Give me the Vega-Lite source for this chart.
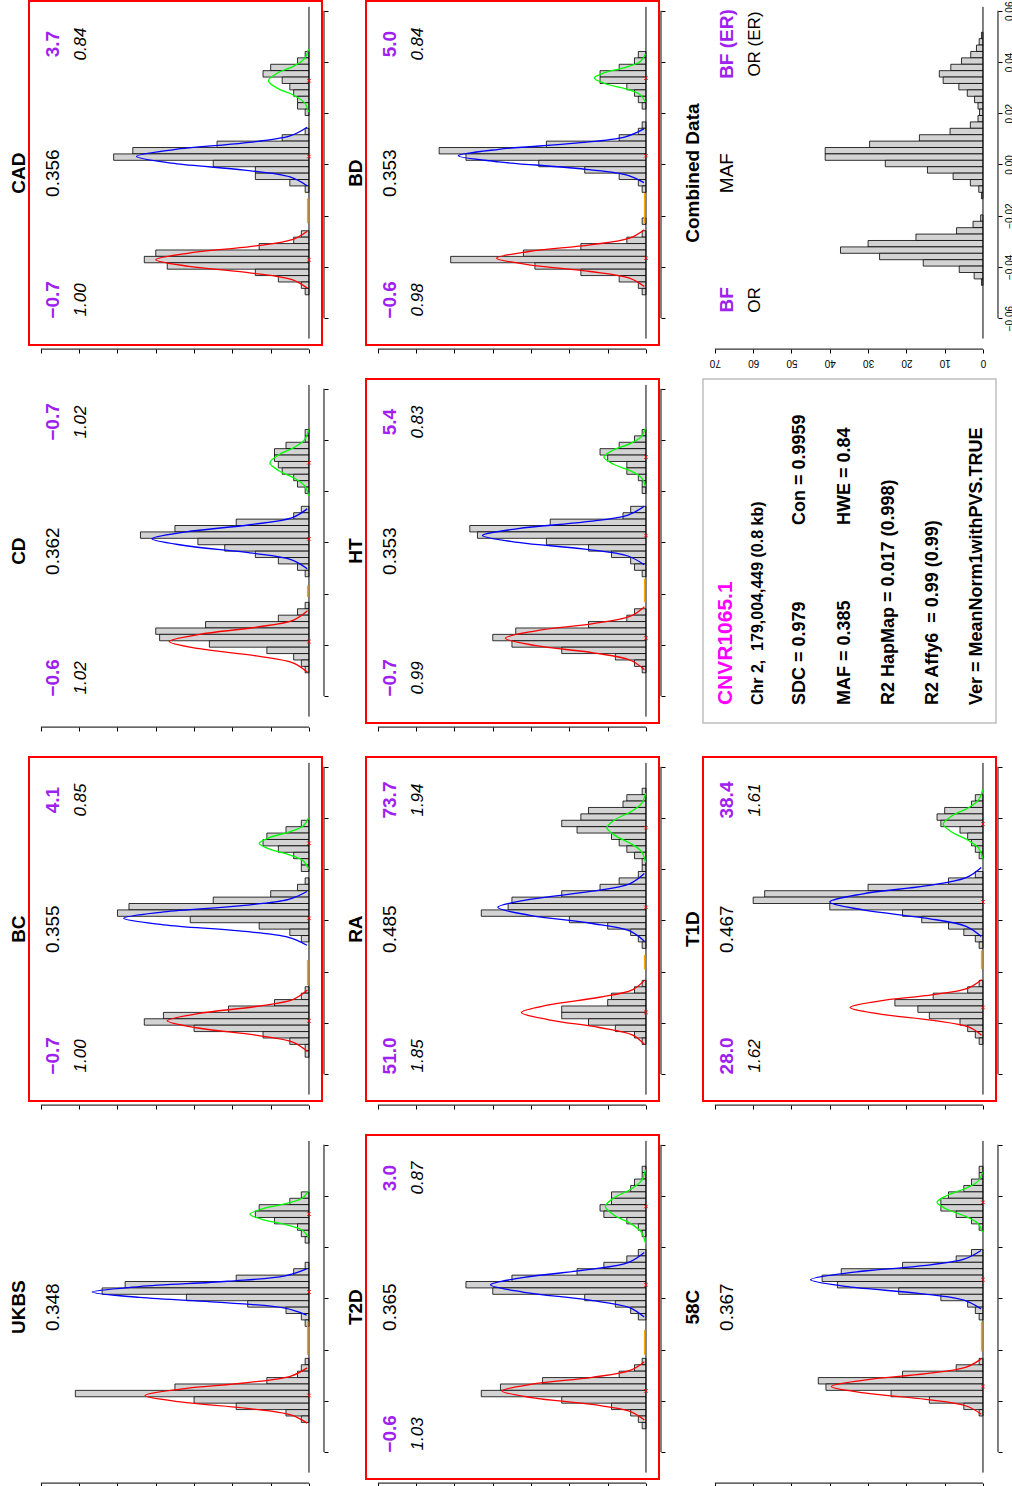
{
"$schema":"https://vega.github.io/schema/vega-lite/v6.json",
"background":"white",
"padding":{"left":8,"top":0,"right":0,"bottom":0},
"config":{"font":"Liberation Sans","view":{"stroke":null},
"axis":{"domain":false,"grid":false,"labels":false,"tickColor":"#000","tickSize":4,"tickWidth":1},
"rect":{"fill":"#d3d3d3","stroke":"#000","strokeWidth":0.8},
"line":{"interpolate":"catmull-rom","strokeWidth":1.3},
"rule":{"color":"#000","strokeWidth":1},
"text":{"color":"#000","angle":270,"align":"center","baseline":"middle"},
"point":{"shape":"M-1,-1L1,1M-1,1L1,-1","size":12,"filled":false,"color":"#ff0000","strokeWidth":1,"opacity":1}},
"datasets":{
"CAD":[
{"t":"i","ti":"CAD","m":"0.356","b1":"−0.7","o1":"1.00","b2":"3.7","o2":"0.84"},
{"t":"o","a":-0.023,"b":-0.0132},
{"t":"m","v":0.0327},{"t":"m","v":0.0031},{"t":"m","v":-0.0372},
{"t":"h","a":0.0416,"b":0.0441,"n":1},{"t":"h","a":0.0391,"b":0.0416,"n":3},{"t":"h","a":0.0366,"b":0.0391,"n":10},{"t":"h","a":0.0341,"b":0.0366,"n":12},{"t":"h","a":0.0316,"b":0.0341,"n":7},{"t":"h","a":0.0291,"b":0.0316,"n":5},{"t":"h","a":0.0266,"b":0.0291,"n":4},{"t":"h","a":0.0241,"b":0.0266,"n":3},{"t":"h","a":0.0216,"b":0.0241,"n":3},{"t":"h","a":0.0191,"b":0.0216,"n":1},
{"t":"h","a":0.0116,"b":0.0141,"n":1},{"t":"h","a":0.0091,"b":0.0116,"n":7},{"t":"h","a":0.0066,"b":0.0091,"n":24},{"t":"h","a":0.0041,"b":0.0066,"n":46},{"t":"h","a":0.0016,"b":0.0041,"n":51},{"t":"h","a":-0.0009,"b":0.0016,"n":25},{"t":"h","a":-0.0034,"b":-0.0009,"n":14},{"t":"h","a":-0.0059,"b":-0.0034,"n":14},{"t":"h","a":-0.0084,"b":-0.0059,"n":5},{"t":"h","a":-0.0109,"b":-0.0084,"n":1},
{"t":"h","a":-0.0284,"b":-0.0259,"n":2},{"t":"h","a":-0.0309,"b":-0.0284,"n":4},{"t":"h","a":-0.0334,"b":-0.0309,"n":13},{"t":"h","a":-0.0359,"b":-0.0334,"n":40},{"t":"h","a":-0.0384,"b":-0.0359,"n":43},{"t":"h","a":-0.0409,"b":-0.0384,"n":37},{"t":"h","a":-0.0434,"b":-0.0409,"n":14},{"t":"h","a":-0.0459,"b":-0.0434,"n":8},{"t":"h","a":-0.0484,"b":-0.0459,"n":2},{"t":"h","a":-0.0509,"b":-0.0484,"n":1},
{"t":"c","c":"g","v":0.0204,"n":0.12},{"t":"c","c":"g","v":0.0241,"n":1.17},{"t":"c","c":"g","v":0.027,"n":3.98},{"t":"c","c":"g","v":0.0298,"n":8.3},{"t":"c","c":"g","v":0.0327,"n":10.6},{"t":"c","c":"g","v":0.0356,"n":8.3},{"t":"c","c":"g","v":0.0384,"n":3.98},{"t":"c","c":"g","v":0.0413,"n":1.17},{"t":"c","c":"g","v":0.045,"n":0.12},
{"t":"c","c":"b","v":-0.0083,"n":0.5},{"t":"c","c":"b","v":-0.0049,"n":4.95},{"t":"c","c":"b","v":-0.0022,"n":16.9},{"t":"c","c":"b","v":0.0004,"n":35.2},{"t":"c","c":"b","v":0.0031,"n":45},{"t":"c","c":"b","v":0.0058,"n":35.2},{"t":"c","c":"b","v":0.0084,"n":16.9},{"t":"c","c":"b","v":0.0111,"n":4.95},{"t":"c","c":"b","v":0.0145,"n":0.5},
{"t":"c","c":"r","v":-0.0483,"n":0.44},{"t":"c","c":"r","v":-0.045,"n":4.4},{"t":"c","c":"r","v":-0.0424,"n":15},{"t":"c","c":"r","v":-0.0398,"n":31.3},{"t":"c","c":"r","v":-0.0372,"n":40},{"t":"c","c":"r","v":-0.0346,"n":31.3},{"t":"c","c":"r","v":-0.032,"n":15},{"t":"c","c":"r","v":-0.0294,"n":4.4},{"t":"c","c":"r","v":-0.0261,"n":0.44}
],
"BD":[
{"t":"i","ti":"BD","m":"0.353","b1":"−0.6","o1":"0.98","b2":"5.0","o2":"0.84"},
{"t":"o","a":-0.0229,"b":-0.0112},
{"t":"m","v":0.0337},{"t":"m","v":0.0034},{"t":"m","v":-0.0366},
{"t":"h","a":0.0416,"b":0.0441,"n":2},{"t":"h","a":0.0391,"b":0.0416,"n":3},{"t":"h","a":0.0366,"b":0.0391,"n":7},{"t":"h","a":0.0341,"b":0.0366,"n":12},{"t":"h","a":0.0316,"b":0.0341,"n":12},{"t":"h","a":0.0291,"b":0.0316,"n":5},{"t":"h","a":0.0266,"b":0.0291,"n":3},{"t":"h","a":0.0241,"b":0.0266,"n":2},{"t":"h","a":0.0216,"b":0.0241,"n":1},
{"t":"h","a":0.0141,"b":0.0166,"n":1},{"t":"h","a":0.0116,"b":0.0141,"n":2},{"t":"h","a":0.0091,"b":0.0116,"n":7},{"t":"h","a":0.0066,"b":0.0091,"n":26},{"t":"h","a":0.0041,"b":0.0066,"n":54},{"t":"h","a":0.0016,"b":0.0041,"n":47},{"t":"h","a":-0.0009,"b":0.0016,"n":28},{"t":"h","a":-0.0034,"b":-0.0009,"n":16},{"t":"h","a":-0.0059,"b":-0.0034,"n":7},{"t":"h","a":-0.0084,"b":-0.0059,"n":2},{"t":"h","a":-0.0109,"b":-0.0084,"n":1},
{"t":"h","a":-0.0234,"b":-0.0209,"n":1},{"t":"h","a":-0.0284,"b":-0.0259,"n":1},{"t":"h","a":-0.0309,"b":-0.0284,"n":5},{"t":"h","a":-0.0334,"b":-0.0309,"n":17},{"t":"h","a":-0.0359,"b":-0.0334,"n":32},{"t":"h","a":-0.0384,"b":-0.0359,"n":51},{"t":"h","a":-0.0409,"b":-0.0384,"n":29},{"t":"h","a":-0.0434,"b":-0.0409,"n":17},{"t":"h","a":-0.0459,"b":-0.0434,"n":7},{"t":"h","a":-0.0484,"b":-0.0459,"n":2},{"t":"h","a":-0.0509,"b":-0.0484,"n":1},
{"t":"c","c":"g","v":0.0244,"n":0.15},{"t":"c","c":"g","v":0.0272,"n":1.49},{"t":"c","c":"g","v":0.0294,"n":5.06},{"t":"c","c":"g","v":0.0315,"n":10.6},{"t":"c","c":"g","v":0.0337,"n":13.5},{"t":"c","c":"g","v":0.0359,"n":10.6},{"t":"c","c":"g","v":0.038,"n":5.06},{"t":"c","c":"g","v":0.0402,"n":1.49},{"t":"c","c":"g","v":0.043,"n":0.15},
{"t":"c","c":"b","v":-0.0071,"n":0.54},{"t":"c","c":"b","v":-0.004,"n":5.39},{"t":"c","c":"b","v":-0.0015,"n":18.4},{"t":"c","c":"b","v":0.001,"n":38.4},{"t":"c","c":"b","v":0.0034,"n":49},{"t":"c","c":"b","v":0.0059,"n":38.4},{"t":"c","c":"b","v":0.0083,"n":18.4},{"t":"c","c":"b","v":0.0108,"n":5.39},{"t":"c","c":"b","v":0.0139,"n":0.54},
{"t":"c","c":"r","v":-0.0477,"n":0.43},{"t":"c","c":"r","v":-0.0444,"n":4.29},{"t":"c","c":"r","v":-0.0418,"n":14.6},{"t":"c","c":"r","v":-0.0392,"n":30.5},{"t":"c","c":"r","v":-0.0366,"n":39},{"t":"c","c":"r","v":-0.034,"n":30.5},{"t":"c","c":"r","v":-0.0314,"n":14.6},{"t":"c","c":"r","v":-0.0288,"n":4.29},{"t":"c","c":"r","v":-0.0255,"n":0.43}
],
"ALL":[
{"t":"i","ti":"Combined Data","m":"MAF","b1":"BF","o1":"OR","b2":"BF (ER)","o2":"OR (ER)"},
{"t":"h","a":0.0491,"b":0.0516,"n":0.4},{"t":"h","a":0.0466,"b":0.0491,"n":1},{"t":"h","a":0.0441,"b":0.0466,"n":1.7},{"t":"h","a":0.0416,"b":0.0441,"n":3.2},{"t":"h","a":0.0391,"b":0.0416,"n":5.6},{"t":"h","a":0.0366,"b":0.0391,"n":8.4},{"t":"h","a":0.0341,"b":0.0366,"n":11.4},{"t":"h","a":0.0316,"b":0.0341,"n":10.4},{"t":"h","a":0.0291,"b":0.0316,"n":6.3},{"t":"h","a":0.0266,"b":0.0291,"n":4.1},{"t":"h","a":0.0241,"b":0.0266,"n":2.2},{"t":"h","a":0.0216,"b":0.0241,"n":1.3},{"t":"h","a":0.0191,"b":0.0216,"n":0.9},{"t":"h","a":0.0166,"b":0.0191,"n":1.3},{"t":"h","a":0.0141,"b":0.0166,"n":3.3},
{"t":"h","a":0.0116,"b":0.0141,"n":8.6},{"t":"h","a":0.0091,"b":0.0116,"n":16.6},{"t":"h","a":0.0066,"b":0.0091,"n":29.6},{"t":"h","a":0.0041,"b":0.0066,"n":41.2},{"t":"h","a":0.0016,"b":0.0041,"n":41.2},{"t":"h","a":-0.0009,"b":0.0016,"n":25.5},{"t":"h","a":-0.0034,"b":-0.0009,"n":14.5},{"t":"h","a":-0.0059,"b":-0.0034,"n":7.8},{"t":"h","a":-0.0084,"b":-0.0059,"n":3.3},{"t":"h","a":-0.0109,"b":-0.0084,"n":1.1},{"t":"h","a":-0.0134,"b":-0.0109,"n":0.4},
{"t":"h","a":-0.0222,"b":-0.0197,"n":0.6},{"t":"h","a":-0.0247,"b":-0.0222,"n":2.6},{"t":"h","a":-0.0272,"b":-0.0247,"n":6.9},{"t":"h","a":-0.0297,"b":-0.0272,"n":17.5},{"t":"h","a":-0.0322,"b":-0.0297,"n":30},{"t":"h","a":-0.0347,"b":-0.0322,"n":37.2},{"t":"h","a":-0.0372,"b":-0.0347,"n":27},{"t":"h","a":-0.0397,"b":-0.0372,"n":15.6},{"t":"h","a":-0.0422,"b":-0.0397,"n":6.2},{"t":"h","a":-0.0447,"b":-0.0422,"n":2.3},{"t":"h","a":-0.0472,"b":-0.0447,"n":0.4}
],
"CD":[
{"t":"i","ti":"CD","m":"0.362","b1":"−0.6","o1":"1.02","b2":"−0.7","o2":"1.02"},
{"t":"o","a":-0.0213,"b":-0.0168},
{"t":"m","v":0.0311},{"t":"m","v":0.0014},{"t":"m","v":-0.0387},
{"t":"h","a":0.0416,"b":0.0441,"n":1},{"t":"h","a":0.0391,"b":0.0416,"n":1},{"t":"h","a":0.0366,"b":0.0391,"n":6},{"t":"h","a":0.0341,"b":0.0366,"n":9},{"t":"h","a":0.0316,"b":0.0341,"n":9},{"t":"h","a":0.0291,"b":0.0316,"n":8},{"t":"h","a":0.0266,"b":0.0291,"n":7},{"t":"h","a":0.0241,"b":0.0266,"n":4},{"t":"h","a":0.0216,"b":0.0241,"n":3},{"t":"h","a":0.0191,"b":0.0216,"n":1},
{"t":"h","a":0.0116,"b":0.0141,"n":2},{"t":"h","a":0.0091,"b":0.0116,"n":4},{"t":"h","a":0.0066,"b":0.0091,"n":19},{"t":"h","a":0.0041,"b":0.0066,"n":35},{"t":"h","a":0.0016,"b":0.0041,"n":44},{"t":"h","a":-0.0009,"b":0.0016,"n":29},{"t":"h","a":-0.0034,"b":-0.0009,"n":22},{"t":"h","a":-0.0059,"b":-0.0034,"n":14},{"t":"h","a":-0.0084,"b":-0.0059,"n":8},{"t":"h","a":-0.0109,"b":-0.0084,"n":3},{"t":"h","a":-0.0134,"b":-0.0109,"n":1},
{"t":"h","a":-0.0259,"b":-0.0234,"n":1},{"t":"h","a":-0.0284,"b":-0.0259,"n":3},{"t":"h","a":-0.0309,"b":-0.0284,"n":8},{"t":"h","a":-0.0334,"b":-0.0309,"n":27},{"t":"h","a":-0.0359,"b":-0.0334,"n":40},{"t":"h","a":-0.0384,"b":-0.0359,"n":39},{"t":"h","a":-0.0409,"b":-0.0384,"n":26},{"t":"h","a":-0.0434,"b":-0.0409,"n":11},{"t":"h","a":-0.0459,"b":-0.0434,"n":4},{"t":"h","a":-0.0484,"b":-0.0459,"n":2},{"t":"h","a":-0.0509,"b":-0.0484,"n":1},
{"t":"c","c":"g","v":0.0182,"n":0.11},{"t":"c","c":"g","v":0.0221,"n":1.12},{"t":"c","c":"g","v":0.0251,"n":3.83},{"t":"c","c":"g","v":0.0281,"n":7.99},{"t":"c","c":"g","v":0.0311,"n":10.2},{"t":"c","c":"g","v":0.0341,"n":7.99},{"t":"c","c":"g","v":0.0371,"n":3.83},{"t":"c","c":"g","v":0.0401,"n":1.12},{"t":"c","c":"g","v":0.044,"n":0.11},
{"t":"c","c":"b","v":-0.0103,"n":0.45},{"t":"c","c":"b","v":-0.0068,"n":4.51},{"t":"c","c":"b","v":-0.0041,"n":15.4},{"t":"c","c":"b","v":-0.0013,"n":32.1},{"t":"c","c":"b","v":0.0014,"n":41},{"t":"c","c":"b","v":0.0041,"n":32.1},{"t":"c","c":"b","v":0.0069,"n":15.4},{"t":"c","c":"b","v":0.0096,"n":4.51},{"t":"c","c":"b","v":0.0131,"n":0.45},
{"t":"c","c":"r","v":-0.0507,"n":0.4},{"t":"c","c":"r","v":-0.0471,"n":4.02},{"t":"c","c":"r","v":-0.0443,"n":13.7},{"t":"c","c":"r","v":-0.0415,"n":28.6},{"t":"c","c":"r","v":-0.0387,"n":36.5},{"t":"c","c":"r","v":-0.0359,"n":28.6},{"t":"c","c":"r","v":-0.0331,"n":13.7},{"t":"c","c":"r","v":-0.0303,"n":4.02},{"t":"c","c":"r","v":-0.0267,"n":0.4}
],
"HT":[
{"t":"i","ti":"HT","m":"0.353","b1":"−0.7","o1":"0.99","b2":"5.4","o2":"0.83"},
{"t":"o","a":-0.0233,"b":-0.0142},
{"t":"m","v":0.0333},{"t":"m","v":0.0027},{"t":"m","v":-0.0374},
{"t":"h","a":0.0416,"b":0.0441,"n":1},{"t":"h","a":0.0391,"b":0.0416,"n":3},{"t":"h","a":0.0366,"b":0.0391,"n":7},{"t":"h","a":0.0341,"b":0.0366,"n":12},{"t":"h","a":0.0316,"b":0.0341,"n":10},{"t":"h","a":0.0291,"b":0.0316,"n":5},{"t":"h","a":0.0266,"b":0.0291,"n":5},{"t":"h","a":0.0241,"b":0.0266,"n":2},{"t":"h","a":0.0216,"b":0.0241,"n":1},{"t":"h","a":0.0191,"b":0.0216,"n":1},
{"t":"h","a":0.0116,"b":0.0141,"n":4},{"t":"h","a":0.0091,"b":0.0116,"n":6},{"t":"h","a":0.0066,"b":0.0091,"n":25},{"t":"h","a":0.0041,"b":0.0066,"n":46},{"t":"h","a":0.0016,"b":0.0041,"n":44},{"t":"h","a":-0.0009,"b":0.0016,"n":26},{"t":"h","a":-0.0034,"b":-0.0009,"n":15},{"t":"h","a":-0.0059,"b":-0.0034,"n":9},{"t":"h","a":-0.0084,"b":-0.0059,"n":4},{"t":"h","a":-0.0109,"b":-0.0084,"n":3},{"t":"h","a":-0.0134,"b":-0.0109,"n":1},
{"t":"h","a":-0.0284,"b":-0.0259,"n":3},{"t":"h","a":-0.0309,"b":-0.0284,"n":5},{"t":"h","a":-0.0334,"b":-0.0309,"n":15},{"t":"h","a":-0.0359,"b":-0.0334,"n":34},{"t":"h","a":-0.0384,"b":-0.0359,"n":40},{"t":"h","a":-0.0409,"b":-0.0384,"n":35},{"t":"h","a":-0.0434,"b":-0.0409,"n":22},{"t":"h","a":-0.0459,"b":-0.0434,"n":8},{"t":"h","a":-0.0484,"b":-0.0459,"n":3},{"t":"h","a":-0.0509,"b":-0.0484,"n":1},
{"t":"c","c":"g","v":0.0219,"n":0.12},{"t":"c","c":"g","v":0.0253,"n":1.21},{"t":"c","c":"g","v":0.028,"n":4.13},{"t":"c","c":"g","v":0.0306,"n":8.61},{"t":"c","c":"g","v":0.0333,"n":11},{"t":"c","c":"g","v":0.036,"n":8.61},{"t":"c","c":"g","v":0.0386,"n":4.13},{"t":"c","c":"g","v":0.0413,"n":1.21},{"t":"c","c":"g","v":0.0447,"n":0.12},
{"t":"c","c":"b","v":-0.0087,"n":0.47},{"t":"c","c":"b","v":-0.0053,"n":4.7},{"t":"c","c":"b","v":-0.0026,"n":16},{"t":"c","c":"b","v":0.0,"n":33.4},{"t":"c","c":"b","v":0.0027,"n":42.7},{"t":"c","c":"b","v":0.0054,"n":33.4},{"t":"c","c":"b","v":0.008,"n":16},{"t":"c","c":"b","v":0.0107,"n":4.7},{"t":"c","c":"b","v":0.0141,"n":0.47},
{"t":"c","c":"r","v":-0.0497,"n":0.4},{"t":"c","c":"r","v":-0.046,"n":4.04},{"t":"c","c":"r","v":-0.0431,"n":13.8},{"t":"c","c":"r","v":-0.0403,"n":28.7},{"t":"c","c":"r","v":-0.0374,"n":36.7},{"t":"c","c":"r","v":-0.0345,"n":28.7},{"t":"c","c":"r","v":-0.0317,"n":13.8},{"t":"c","c":"r","v":-0.0288,"n":4.04},{"t":"c","c":"r","v":-0.0251,"n":0.4}
],
"BC":[
{"t":"i","ti":"BC","m":"0.355","b1":"−0.7","o1":"1.00","b2":"4.1","o2":"0.85"},
{"t":"o","a":-0.0252,"b":-0.0155},
{"t":"m","v":0.0301},{"t":"m","v":0.0008},{"t":"m","v":-0.0392},
{"t":"h","a":0.0366,"b":0.0391,"n":2},{"t":"h","a":0.0341,"b":0.0366,"n":6},{"t":"h","a":0.0316,"b":0.0341,"n":11},{"t":"h","a":0.0291,"b":0.0316,"n":12},{"t":"h","a":0.0266,"b":0.0291,"n":8},{"t":"h","a":0.0241,"b":0.0266,"n":4},{"t":"h","a":0.0216,"b":0.0241,"n":2},{"t":"h","a":0.0191,"b":0.0216,"n":2},{"t":"h","a":0.0141,"b":0.0166,"n":1},
{"t":"h","a":0.0116,"b":0.0141,"n":3},{"t":"h","a":0.0091,"b":0.0116,"n":10},{"t":"h","a":0.0066,"b":0.0091,"n":25},{"t":"h","a":0.0041,"b":0.0066,"n":47},{"t":"h","a":0.0016,"b":0.0041,"n":50},{"t":"h","a":-0.0009,"b":0.0016,"n":31},{"t":"h","a":-0.0034,"b":-0.0009,"n":13},{"t":"h","a":-0.0059,"b":-0.0034,"n":5},{"t":"h","a":-0.0084,"b":-0.0059,"n":2},
{"t":"h","a":-0.0284,"b":-0.0259,"n":1},{"t":"h","a":-0.0309,"b":-0.0284,"n":2},{"t":"h","a":-0.0334,"b":-0.0309,"n":9},{"t":"h","a":-0.0359,"b":-0.0334,"n":21},{"t":"h","a":-0.0384,"b":-0.0359,"n":38},{"t":"h","a":-0.0409,"b":-0.0384,"n":43},{"t":"h","a":-0.0434,"b":-0.0409,"n":30},{"t":"h","a":-0.0459,"b":-0.0434,"n":12},{"t":"h","a":-0.0484,"b":-0.0459,"n":5},{"t":"h","a":-0.0509,"b":-0.0484,"n":1},{"t":"h","a":-0.0534,"b":-0.0509,"n":1},
{"t":"c","c":"g","v":0.0202,"n":0.14},{"t":"c","c":"g","v":0.0232,"n":1.43},{"t":"c","c":"g","v":0.0255,"n":4.88},{"t":"c","c":"g","v":0.0278,"n":10.2},{"t":"c","c":"g","v":0.0301,"n":13},{"t":"c","c":"g","v":0.0324,"n":10.2},{"t":"c","c":"g","v":0.0347,"n":4.88},{"t":"c","c":"g","v":0.037,"n":1.43},{"t":"c","c":"g","v":0.04,"n":0.14},
{"t":"c","c":"b","v":-0.0097,"n":0.53},{"t":"c","c":"b","v":-0.0066,"n":5.32},{"t":"c","c":"b","v":-0.0041,"n":18.2},{"t":"c","c":"b","v":-0.0017,"n":37.9},{"t":"c","c":"b","v":0.0008,"n":48.4},{"t":"c","c":"b","v":0.0033,"n":37.9},{"t":"c","c":"b","v":0.0057,"n":18.2},{"t":"c","c":"b","v":0.0082,"n":5.32},{"t":"c","c":"b","v":0.0113,"n":0.53},
{"t":"c","c":"r","v":-0.0512,"n":0.41},{"t":"c","c":"r","v":-0.0476,"n":4.07},{"t":"c","c":"r","v":-0.0448,"n":13.9},{"t":"c","c":"r","v":-0.042,"n":29},{"t":"c","c":"r","v":-0.0392,"n":37},{"t":"c","c":"r","v":-0.0364,"n":29},{"t":"c","c":"r","v":-0.0336,"n":13.9},{"t":"c","c":"r","v":-0.0308,"n":4.07},{"t":"c","c":"r","v":-0.0272,"n":0.41}
],
"RA":[
{"t":"i","ti":"RA","m":"0.485","b1":"51.0","o1":"1.85","b2":"73.7","o2":"1.94"},
{"t":"o","a":-0.0191,"b":-0.0135},
{"t":"m","v":0.0362},{"t":"m","v":0.0051},{"t":"m","v":-0.0359},
{"t":"h","a":0.0491,"b":0.0516,"n":1},{"t":"h","a":0.0466,"b":0.0491,"n":5},{"t":"h","a":0.0441,"b":0.0466,"n":6},{"t":"h","a":0.0416,"b":0.0441,"n":15},{"t":"h","a":0.0391,"b":0.0416,"n":17},{"t":"h","a":0.0366,"b":0.0391,"n":22},{"t":"h","a":0.0341,"b":0.0366,"n":18},{"t":"h","a":0.0316,"b":0.0341,"n":9},{"t":"h","a":0.0291,"b":0.0316,"n":7},{"t":"h","a":0.0266,"b":0.0291,"n":5},{"t":"h","a":0.0241,"b":0.0266,"n":3},{"t":"h","a":0.0216,"b":0.0241,"n":1},
{"t":"h","a":0.0191,"b":0.0216,"n":1},{"t":"h","a":0.0166,"b":0.0191,"n":2},{"t":"h","a":0.0141,"b":0.0166,"n":7},{"t":"h","a":0.0116,"b":0.0141,"n":12},{"t":"h","a":0.0091,"b":0.0116,"n":22},{"t":"h","a":0.0066,"b":0.0091,"n":35},{"t":"h","a":0.0041,"b":0.0066,"n":36},{"t":"h","a":0.0016,"b":0.0041,"n":43},{"t":"h","a":-0.0009,"b":0.0016,"n":20},{"t":"h","a":-0.0034,"b":-0.0009,"n":10},{"t":"h","a":-0.0059,"b":-0.0034,"n":4},{"t":"h","a":-0.0084,"b":-0.0059,"n":2},{"t":"h","a":-0.0109,"b":-0.0084,"n":1},
{"t":"h","a":-0.0259,"b":-0.0234,"n":1},{"t":"h","a":-0.0284,"b":-0.0259,"n":3},{"t":"h","a":-0.0309,"b":-0.0284,"n":9},{"t":"h","a":-0.0334,"b":-0.0309,"n":10},{"t":"h","a":-0.0359,"b":-0.0334,"n":22},{"t":"h","a":-0.0384,"b":-0.0359,"n":22},{"t":"h","a":-0.0409,"b":-0.0384,"n":15},{"t":"h","a":-0.0434,"b":-0.0409,"n":8},{"t":"h","a":-0.0459,"b":-0.0434,"n":3},{"t":"h","a":-0.0484,"b":-0.0459,"n":1},
{"t":"c","c":"g","v":0.0227,"n":0.11},{"t":"c","c":"g","v":0.0268,"n":1.12},{"t":"c","c":"g","v":0.0299,"n":3.83},{"t":"c","c":"g","v":0.0331,"n":7.99},{"t":"c","c":"g","v":0.0362,"n":10.2},{"t":"c","c":"g","v":0.0394,"n":7.99},{"t":"c","c":"g","v":0.0425,"n":3.83},{"t":"c","c":"g","v":0.0457,"n":1.12},{"t":"c","c":"g","v":0.0497,"n":0.11},
{"t":"c","c":"b","v":-0.0081,"n":0.43},{"t":"c","c":"b","v":-0.0041,"n":4.26},{"t":"c","c":"b","v":-0.0011,"n":14.5},{"t":"c","c":"b","v":0.002,"n":30.3},{"t":"c","c":"b","v":0.0051,"n":38.7},{"t":"c","c":"b","v":0.0082,"n":30.3},{"t":"c","c":"b","v":0.0113,"n":14.5},{"t":"c","c":"b","v":0.0143,"n":4.26},{"t":"c","c":"b","v":0.0183,"n":0.43},
{"t":"c","c":"r","v":-0.0485,"n":0.36},{"t":"c","c":"r","v":-0.0447,"n":3.58},{"t":"c","c":"r","v":-0.0418,"n":12.2},{"t":"c","c":"r","v":-0.0388,"n":25.4},{"t":"c","c":"r","v":-0.0359,"n":32.5},{"t":"c","c":"r","v":-0.033,"n":25.4},{"t":"c","c":"r","v":-0.03,"n":12.2},{"t":"c","c":"r","v":-0.0271,"n":3.58},{"t":"c","c":"r","v":-0.0233,"n":0.36}
],
"T1D":[
{"t":"i","ti":"T1D","m":"0.467","b1":"28.0","o1":"1.62","b2":"38.4","o2":"1.61"},
{"t":"o","a":-0.0189,"b":-0.0117},
{"t":"m","v":0.0376},{"t":"m","v":0.0072},{"t":"m","v":-0.034},
{"t":"h","a":0.0466,"b":0.0491,"n":2},{"t":"h","a":0.0441,"b":0.0466,"n":3},{"t":"h","a":0.0416,"b":0.0441,"n":10},{"t":"h","a":0.0391,"b":0.0416,"n":12},{"t":"h","a":0.0366,"b":0.0391,"n":11},{"t":"h","a":0.0341,"b":0.0366,"n":6},{"t":"h","a":0.0316,"b":0.0341,"n":4},{"t":"h","a":0.0291,"b":0.0316,"n":3},{"t":"h","a":0.0266,"b":0.0291,"n":2},{"t":"h","a":0.0241,"b":0.0266,"n":1},
{"t":"h","a":0.0166,"b":0.0191,"n":2},{"t":"h","a":0.0141,"b":0.0166,"n":9},{"t":"h","a":0.0116,"b":0.0141,"n":30},{"t":"h","a":0.0091,"b":0.0116,"n":57},{"t":"h","a":0.0066,"b":0.0091,"n":60},{"t":"h","a":0.0041,"b":0.0066,"n":40},{"t":"h","a":0.0016,"b":0.0041,"n":21},{"t":"h","a":-0.0009,"b":0.0016,"n":16},{"t":"h","a":-0.0034,"b":-0.0009,"n":9},{"t":"h","a":-0.0059,"b":-0.0034,"n":5},{"t":"h","a":-0.0084,"b":-0.0059,"n":2},{"t":"h","a":-0.0109,"b":-0.0084,"n":1},
{"t":"h","a":-0.0259,"b":-0.0234,"n":1},{"t":"h","a":-0.0284,"b":-0.0259,"n":4},{"t":"h","a":-0.0309,"b":-0.0284,"n":13},{"t":"h","a":-0.0334,"b":-0.0309,"n":23},{"t":"h","a":-0.0359,"b":-0.0334,"n":17},{"t":"h","a":-0.0384,"b":-0.0359,"n":14},{"t":"h","a":-0.0409,"b":-0.0384,"n":6},{"t":"h","a":-0.0434,"b":-0.0409,"n":4},{"t":"h","a":-0.0459,"b":-0.0434,"n":2},{"t":"h","a":-0.0484,"b":-0.0459,"n":1},
{"t":"c","c":"g","v":0.0241,"n":0.11},{"t":"c","c":"g","v":0.0282,"n":1.14},{"t":"c","c":"g","v":0.0313,"n":3.9},{"t":"c","c":"g","v":0.0345,"n":8.14},{"t":"c","c":"g","v":0.0376,"n":10.4},{"t":"c","c":"g","v":0.0408,"n":8.14},{"t":"c","c":"g","v":0.0439,"n":3.9},{"t":"c","c":"g","v":0.0471,"n":1.14},{"t":"c","c":"g","v":0.0511,"n":0.11},
{"t":"c","c":"b","v":-0.0063,"n":0.44},{"t":"c","c":"b","v":-0.0023,"n":4.4},{"t":"c","c":"b","v":0.0009,"n":15},{"t":"c","c":"b","v":0.0041,"n":31.3},{"t":"c","c":"b","v":0.0072,"n":40},{"t":"c","c":"b","v":0.0104,"n":31.3},{"t":"c","c":"b","v":0.0135,"n":15},{"t":"c","c":"b","v":0.0167,"n":4.4},{"t":"c","c":"b","v":0.0207,"n":0.44},
{"t":"c","c":"r","v":-0.0448,"n":0.38},{"t":"c","c":"r","v":-0.0416,"n":3.82},{"t":"c","c":"r","v":-0.039,"n":13},{"t":"c","c":"r","v":-0.0365,"n":27.2},{"t":"c","c":"r","v":-0.034,"n":34.7},{"t":"c","c":"r","v":-0.0315,"n":27.2},{"t":"c","c":"r","v":-0.029,"n":13},{"t":"c","c":"r","v":-0.0264,"n":3.82},{"t":"c","c":"r","v":-0.0232,"n":0.38}
],
"UKBS":[
{"t":"i","ti":"UKBS","m":"0.348","b1":"","o1":"","b2":"","o2":""},
{"t":"o","a":-0.022,"b":-0.009},
{"t":"m","v":0.0329},{"t":"m","v":0.0025},{"t":"m","v":-0.0379},
{"t":"h","a":0.0391,"b":0.0416,"n":2},{"t":"h","a":0.0366,"b":0.0391,"n":5},{"t":"h","a":0.0341,"b":0.0366,"n":13},{"t":"h","a":0.0316,"b":0.0341,"n":14},{"t":"h","a":0.0291,"b":0.0316,"n":9},{"t":"h","a":0.0266,"b":0.0291,"n":3},{"t":"h","a":0.0241,"b":0.0266,"n":2},{"t":"h","a":0.0216,"b":0.0241,"n":1},
{"t":"h","a":0.0116,"b":0.0141,"n":1},{"t":"h","a":0.0091,"b":0.0116,"n":4},{"t":"h","a":0.0066,"b":0.0091,"n":19},{"t":"h","a":0.0041,"b":0.0066,"n":48},{"t":"h","a":0.0016,"b":0.0041,"n":54},{"t":"h","a":-0.0009,"b":0.0016,"n":32},{"t":"h","a":-0.0034,"b":-0.0009,"n":16},{"t":"h","a":-0.0059,"b":-0.0034,"n":6},{"t":"h","a":-0.0084,"b":-0.0059,"n":2},{"t":"h","a":-0.0109,"b":-0.0084,"n":1},
{"t":"h","a":-0.0259,"b":-0.0234,"n":1},{"t":"h","a":-0.0284,"b":-0.0259,"n":2},{"t":"h","a":-0.0309,"b":-0.0284,"n":3},{"t":"h","a":-0.0334,"b":-0.0309,"n":11},{"t":"h","a":-0.0359,"b":-0.0334,"n":35},{"t":"h","a":-0.0384,"b":-0.0359,"n":61},{"t":"h","a":-0.0409,"b":-0.0384,"n":30},{"t":"h","a":-0.0434,"b":-0.0409,"n":19},{"t":"h","a":-0.0459,"b":-0.0434,"n":6},{"t":"h","a":-0.0484,"b":-0.0459,"n":2},
{"t":"c","c":"g","v":0.0239,"n":0.17},{"t":"c","c":"g","v":0.0266,"n":1.69},{"t":"c","c":"g","v":0.0287,"n":5.78},{"t":"c","c":"g","v":0.0308,"n":12.1},{"t":"c","c":"g","v":0.0329,"n":15.4},{"t":"c","c":"g","v":0.035,"n":12.1},{"t":"c","c":"g","v":0.0371,"n":5.78},{"t":"c","c":"g","v":0.0392,"n":1.69},{"t":"c","c":"g","v":0.0419,"n":0.17},
{"t":"c","c":"b","v":-0.0065,"n":0.62},{"t":"c","c":"b","v":-0.0038,"n":6.23},{"t":"c","c":"b","v":-0.0017,"n":21.2},{"t":"c","c":"b","v":0.0004,"n":44.3},{"t":"c","c":"b","v":0.0025,"n":56.6},{"t":"c","c":"b","v":0.0046,"n":44.3},{"t":"c","c":"b","v":0.0067,"n":21.2},{"t":"c","c":"b","v":0.0088,"n":6.23},{"t":"c","c":"b","v":0.0115,"n":0.62},
{"t":"c","c":"r","v":-0.0487,"n":0.47},{"t":"c","c":"r","v":-0.0455,"n":4.71},{"t":"c","c":"r","v":-0.0429,"n":16.1},{"t":"c","c":"r","v":-0.0404,"n":33.5},{"t":"c","c":"r","v":-0.0379,"n":42.8},{"t":"c","c":"r","v":-0.0354,"n":33.5},{"t":"c","c":"r","v":-0.0329,"n":16.1},{"t":"c","c":"r","v":-0.0303,"n":4.71},{"t":"c","c":"r","v":-0.0271,"n":0.47}
],
"T2D":[
{"t":"i","ti":"T2D","m":"0.365","b1":"−0.6","o1":"1.03","b2":"3.0","o2":"0.87"},
{"t":"o","a":-0.022,"b":-0.0123},
{"t":"m","v":0.0359},{"t":"m","v":0.0053},{"t":"m","v":-0.0361},
{"t":"h","a":0.0491,"b":0.0516,"n":1},{"t":"h","a":0.0466,"b":0.0491,"n":1},{"t":"h","a":0.0441,"b":0.0466,"n":3},{"t":"h","a":0.0416,"b":0.0441,"n":4},{"t":"h","a":0.0391,"b":0.0416,"n":9},{"t":"h","a":0.0366,"b":0.0391,"n":9},{"t":"h","a":0.0341,"b":0.0366,"n":12},{"t":"h","a":0.0316,"b":0.0341,"n":11},{"t":"h","a":0.0291,"b":0.0316,"n":5},{"t":"h","a":0.0266,"b":0.0291,"n":2},{"t":"h","a":0.0241,"b":0.0266,"n":1},
{"t":"h","a":0.0166,"b":0.0191,"n":2},{"t":"h","a":0.0141,"b":0.0166,"n":5},{"t":"h","a":0.0116,"b":0.0141,"n":11},{"t":"h","a":0.0091,"b":0.0116,"n":18},{"t":"h","a":0.0066,"b":0.0091,"n":35},{"t":"h","a":0.0041,"b":0.0066,"n":47},{"t":"h","a":0.0016,"b":0.0041,"n":40},{"t":"h","a":-0.0009,"b":0.0016,"n":16},{"t":"h","a":-0.0034,"b":-0.0009,"n":8},{"t":"h","a":-0.0059,"b":-0.0034,"n":4},{"t":"h","a":-0.0084,"b":-0.0059,"n":2},
{"t":"h","a":-0.0259,"b":-0.0234,"n":1},{"t":"h","a":-0.0284,"b":-0.0259,"n":3},{"t":"h","a":-0.0309,"b":-0.0284,"n":7},{"t":"h","a":-0.0334,"b":-0.0309,"n":27},{"t":"h","a":-0.0359,"b":-0.0334,"n":38},{"t":"h","a":-0.0384,"b":-0.0359,"n":43},{"t":"h","a":-0.0409,"b":-0.0384,"n":22},{"t":"h","a":-0.0434,"b":-0.0409,"n":9},{"t":"h","a":-0.0459,"b":-0.0434,"n":4},{"t":"h","a":-0.0484,"b":-0.0459,"n":2},{"t":"h","a":-0.0509,"b":-0.0484,"n":1},
{"t":"c","c":"g","v":0.0215,"n":0.12},{"t":"c","c":"g","v":0.0258,"n":1.17},{"t":"c","c":"g","v":0.0292,"n":3.98},{"t":"c","c":"g","v":0.0325,"n":8.3},{"t":"c","c":"g","v":0.0359,"n":10.6},{"t":"c","c":"g","v":0.0393,"n":8.3},{"t":"c","c":"g","v":0.0426,"n":3.98},{"t":"c","c":"g","v":0.046,"n":1.17},{"t":"c","c":"g","v":0.0503,"n":0.12},
{"t":"c","c":"b","v":-0.0073,"n":0.45},{"t":"c","c":"b","v":-0.0035,"n":4.47},{"t":"c","c":"b","v":-0.0006,"n":15.2},{"t":"c","c":"b","v":0.0024,"n":31.8},{"t":"c","c":"b","v":0.0053,"n":40.6},{"t":"c","c":"b","v":0.0082,"n":31.8},{"t":"c","c":"b","v":0.0112,"n":15.2},{"t":"c","c":"b","v":0.0141,"n":4.47},{"t":"c","c":"b","v":0.0179,"n":0.45},
{"t":"c","c":"r","v":-0.0475,"n":0.41},{"t":"c","c":"r","v":-0.0441,"n":4.14},{"t":"c","c":"r","v":-0.0414,"n":14.1},{"t":"c","c":"r","v":-0.0388,"n":29.4},{"t":"c","c":"r","v":-0.0361,"n":37.6},{"t":"c","c":"r","v":-0.0334,"n":29.4},{"t":"c","c":"r","v":-0.0308,"n":14.1},{"t":"c","c":"r","v":-0.0281,"n":4.14},{"t":"c","c":"r","v":-0.0247,"n":0.41}
],
"C58":[
{"t":"i","ti":"58C","m":"0.367","b1":"","o1":"","b2":"","o2":""},
{"t":"o","a":-0.0207,"b":-0.009},
{"t":"m","v":0.0375},{"t":"m","v":0.0073},{"t":"m","v":-0.0344},
{"t":"h","a":0.0491,"b":0.0516,"n":1},{"t":"h","a":0.0466,"b":0.0491,"n":1},{"t":"h","a":0.0441,"b":0.0466,"n":3},{"t":"h","a":0.0416,"b":0.0441,"n":5},{"t":"h","a":0.0391,"b":0.0416,"n":9},{"t":"h","a":0.0366,"b":0.0391,"n":11},{"t":"h","a":0.0341,"b":0.0366,"n":11},{"t":"h","a":0.0316,"b":0.0341,"n":7},{"t":"h","a":0.0291,"b":0.0316,"n":3},{"t":"h","a":0.0266,"b":0.0291,"n":1},
{"t":"h","a":0.0166,"b":0.0191,"n":3},{"t":"h","a":0.0141,"b":0.0166,"n":7},{"t":"h","a":0.0116,"b":0.0141,"n":21},{"t":"h","a":0.0091,"b":0.0116,"n":37},{"t":"h","a":0.0066,"b":0.0091,"n":42},{"t":"h","a":0.0041,"b":0.0066,"n":38},{"t":"h","a":0.0016,"b":0.0041,"n":22},{"t":"h","a":-0.0009,"b":0.0016,"n":11},{"t":"h","a":-0.0034,"b":-0.0009,"n":4},{"t":"h","a":-0.0059,"b":-0.0034,"n":2},{"t":"h","a":-0.0084,"b":-0.0059,"n":1},
{"t":"h","a":-0.0259,"b":-0.0234,"n":1},{"t":"h","a":-0.0284,"b":-0.0259,"n":7},{"t":"h","a":-0.0309,"b":-0.0284,"n":21},{"t":"h","a":-0.0334,"b":-0.0309,"n":43},{"t":"h","a":-0.0359,"b":-0.0334,"n":41},{"t":"h","a":-0.0384,"b":-0.0359,"n":24},{"t":"h","a":-0.0409,"b":-0.0384,"n":14},{"t":"h","a":-0.0434,"b":-0.0409,"n":5},{"t":"h","a":-0.0459,"b":-0.0434,"n":1},
{"t":"c","c":"g","v":0.0258,"n":0.13},{"t":"c","c":"g","v":0.0293,"n":1.32},{"t":"c","c":"g","v":0.032,"n":4.5},{"t":"c","c":"g","v":0.0348,"n":9.4},{"t":"c","c":"g","v":0.0375,"n":12},{"t":"c","c":"g","v":0.0402,"n":9.4},{"t":"c","c":"g","v":0.043,"n":4.5},{"t":"c","c":"g","v":0.0457,"n":1.32},{"t":"c","c":"g","v":0.0492,"n":0.13},
{"t":"c","c":"b","v":-0.0041,"n":0.5},{"t":"c","c":"b","v":-0.0007,"n":4.95},{"t":"c","c":"b","v":0.002,"n":16.9},{"t":"c","c":"b","v":0.0046,"n":35.2},{"t":"c","c":"b","v":0.0073,"n":45},{"t":"c","c":"b","v":0.01,"n":35.2},{"t":"c","c":"b","v":0.0126,"n":16.9},{"t":"c","c":"b","v":0.0153,"n":4.95},{"t":"c","c":"b","v":0.0187,"n":0.5},
{"t":"c","c":"r","v":-0.0452,"n":0.44},{"t":"c","c":"r","v":-0.042,"n":4.36},{"t":"c","c":"r","v":-0.0394,"n":14.9},{"t":"c","c":"r","v":-0.0369,"n":31},{"t":"c","c":"r","v":-0.0344,"n":39.6},{"t":"c","c":"r","v":-0.0319,"n":31},{"t":"c","c":"r","v":-0.0294,"n":14.9},{"t":"c","c":"r","v":-0.0268,"n":4.36},{"t":"c","c":"r","v":-0.0236,"n":0.44}
],
"box":[
{"l1":"CNVR1065.1","l2":"Chr 2,\u00a0 179,004,449 (0.8 kb)","l3":"SDC = 0.979","l4":"Con = 0.9959","l5":"MAF = 0.385","l6":"HWE = 0.84","l7":"R2 HapMap = 0.017 (0.998)","l8":"R2 Affy6\u00a0 = 0.99 (0.99)","l9":"Ver = MeanNorm1withPVS.TRUE"}
]
},
"columns":3,
"spacing":{"row":34,"column":44},
"bounds":"flush",
"concat":[
{"width":293,"height":344,"view":{"stroke":"#ff0000","strokeWidth":2},"data":{"name":"CAD"},"layer":[
{"transform":[{"filter":"datum.t=='h'"}],"mark":"rect","encoding":{"x":{"field":"n","type":"quantitative","scale":{"domain":[-3.4,73.1],"reverse":true,"nice":false,"zero":false},"axis":{"values":[0,10,20,30,40,50,60,70],"offset":4,"title":null}},"x2":{"datum":0},"y":{"field":"a","type":"quantitative","scale":{"domain":[-0.0705,0.0638],"nice":false,"zero":false},"axis":{"orient":"right","values":[-0.06,-0.04,-0.02,0,0.02,0.04,0.06],"offset":2,"title":null}},"y2":{"field":"b"}}},
{"transform":[{"filter":"datum.t=='i'"}],"layer":[
{"mark":"rule","encoding":{"x":{"datum":0},"y":{"datum":-0.068},"y2":{"datum":0.0615}}},
{"mark":"rule","encoding":{"x":{"datum":0},"x2":{"datum":70},"y":{"datum":-0.0721}}},
{"mark":"rule","encoding":{"x":{"datum":-3.92},"y":{"datum":-0.06},"y2":{"datum":0.06}}},
{"mark":{"type":"text","fontSize":19,"fontWeight":"bold"},"encoding":{"x":{"datum":75.84},"y":{"datum":-0.0034},"text":{"field":"ti"}}},
{"mark":{"type":"text","fontSize":19},"encoding":{"x":{"datum":66.8},"y":{"datum":-0.0034},"text":{"field":"m"}}},
{"mark":{"type":"text","fontSize":19,"fontWeight":"bold","color":"#a020f0"},"encoding":{"x":{"datum":66.8},"y":{"datum":-0.0529},"text":{"field":"b1"}}},
{"mark":{"type":"text","fontSize":17,"fontStyle":"italic"},"encoding":{"x":{"datum":59.5},"y":{"datum":-0.0529},"text":{"field":"o1"}}},
{"mark":{"type":"text","fontSize":19,"fontWeight":"bold","color":"#a020f0"},"encoding":{"x":{"datum":66.8},"y":{"datum":0.047},"text":{"field":"b2"}}},
{"mark":{"type":"text","fontSize":17,"fontStyle":"italic"},"encoding":{"x":{"datum":59.5},"y":{"datum":0.047},"text":{"field":"o2"}}}]},
{"transform":[{"filter":"datum.t=='c'"}],"mark":"line","encoding":{"x":{"field":"n","type":"quantitative"},"y":{"field":"v","type":"quantitative"},"color":{"field":"c","type":"nominal","scale":{"domain":["r","b","g"],"range":["#ff0000","#0000ff","#00ff00"]},"legend":null},"order":{"field":"v","type":"quantitative"}}},
{"transform":[{"filter":"datum.t=='o'"}],"mark":{"type":"rule","color":"#ffa500","strokeWidth":1.5},"encoding":{"x":{"datum":0.35},"y":{"field":"a","type":"quantitative"},"y2":{"field":"b"}}},
{"transform":[{"filter":"datum.t=='m'"}],"mark":"point","encoding":{"x":{"datum":0},"y":{"field":"v","type":"quantitative"}}}]},
{"width":293,"height":344,"view":{"stroke":"#ff0000","strokeWidth":2},"data":{"name":"BD"},"layer":[
{"transform":[{"filter":"datum.t=='h'"}],"mark":"rect","encoding":{"x":{"field":"n","type":"quantitative","scale":{"domain":[-3.4,73.1],"reverse":true,"nice":false,"zero":false},"axis":{"values":[0,10,20,30,40,50,60,70],"offset":4,"title":null}},"x2":{"datum":0},"y":{"field":"a","type":"quantitative","scale":{"domain":[-0.0705,0.0638],"nice":false,"zero":false},"axis":{"orient":"right","values":[-0.06,-0.04,-0.02,0,0.02,0.04,0.06],"offset":2,"title":null}},"y2":{"field":"b"}}},
{"transform":[{"filter":"datum.t=='i'"}],"layer":[
{"mark":"rule","encoding":{"x":{"datum":0},"y":{"datum":-0.068},"y2":{"datum":0.0615}}},
{"mark":"rule","encoding":{"x":{"datum":0},"x2":{"datum":70},"y":{"datum":-0.0721}}},
{"mark":"rule","encoding":{"x":{"datum":-3.92},"y":{"datum":-0.06},"y2":{"datum":0.06}}},
{"mark":{"type":"text","fontSize":19,"fontWeight":"bold"},"encoding":{"x":{"datum":75.84},"y":{"datum":-0.0034},"text":{"field":"ti"}}},
{"mark":{"type":"text","fontSize":19},"encoding":{"x":{"datum":66.8},"y":{"datum":-0.0034},"text":{"field":"m"}}},
{"mark":{"type":"text","fontSize":19,"fontWeight":"bold","color":"#a020f0"},"encoding":{"x":{"datum":66.8},"y":{"datum":-0.0529},"text":{"field":"b1"}}},
{"mark":{"type":"text","fontSize":17,"fontStyle":"italic"},"encoding":{"x":{"datum":59.5},"y":{"datum":-0.0529},"text":{"field":"o1"}}},
{"mark":{"type":"text","fontSize":19,"fontWeight":"bold","color":"#a020f0"},"encoding":{"x":{"datum":66.8},"y":{"datum":0.047},"text":{"field":"b2"}}},
{"mark":{"type":"text","fontSize":17,"fontStyle":"italic"},"encoding":{"x":{"datum":59.5},"y":{"datum":0.047},"text":{"field":"o2"}}}]},
{"transform":[{"filter":"datum.t=='c'"}],"mark":"line","encoding":{"x":{"field":"n","type":"quantitative"},"y":{"field":"v","type":"quantitative"},"color":{"field":"c","type":"nominal","scale":{"domain":["r","b","g"],"range":["#ff0000","#0000ff","#00ff00"]},"legend":null},"order":{"field":"v","type":"quantitative"}}},
{"transform":[{"filter":"datum.t=='o'"}],"mark":{"type":"rule","color":"#ffa500","strokeWidth":1.5},"encoding":{"x":{"datum":0.35},"y":{"field":"a","type":"quantitative"},"y2":{"field":"b"}}},
{"transform":[{"filter":"datum.t=='m'"}],"mark":"point","encoding":{"x":{"datum":0},"y":{"field":"v","type":"quantitative"}}}]},
{"width":293,"height":344,"data":{"name":"ALL"},"layer":[
{"transform":[{"filter":"datum.t=='h'"}],"mark":"rect","encoding":{"x":{"field":"n","type":"quantitative","scale":{"domain":[-3.4,73.1],"reverse":true,"nice":false,"zero":false},"axis":{"values":[0,10,20,30,40,50,60,70],"offset":4,"title":null,"labels":true,"labelAngle":180,"labelFontSize":10,"labelPadding":4}},"x2":{"datum":0},"y":{"field":"a","type":"quantitative","scale":{"domain":[-0.0705,0.0638],"nice":false,"zero":false},"axis":{"orient":"right","values":[-0.06,-0.04,-0.02,0,0.02,0.04,0.06],"offset":2,"title":null,"labels":true,"labelAngle":270,"labelFontSize":10,"labelAlign":"center","labelBaseline":"top","labelPadding":2,"labelExpr":"format(datum.value,'.2f')"}},"y2":{"field":"b"}}},
{"transform":[{"filter":"datum.t=='i'"}],"layer":[
{"mark":"rule","encoding":{"x":{"datum":0},"y":{"datum":-0.068},"y2":{"datum":0.0615}}},
{"mark":"rule","encoding":{"x":{"datum":0},"x2":{"datum":70},"y":{"datum":-0.0721}}},
{"mark":"rule","encoding":{"x":{"datum":-3.92},"y":{"datum":-0.06},"y2":{"datum":0.06}}},
{"mark":{"type":"text","fontSize":19,"fontWeight":"bold"},"encoding":{"x":{"datum":75.84},"y":{"datum":-0.0034},"text":{"field":"ti"}}},
{"mark":{"type":"text","fontSize":19},"encoding":{"x":{"datum":66.8},"y":{"datum":-0.0034},"text":{"field":"m"}}},
{"mark":{"type":"text","fontSize":19,"fontWeight":"bold","color":"#a020f0"},"encoding":{"x":{"datum":66.8},"y":{"datum":-0.0529},"text":{"field":"b1"}}},
{"mark":{"type":"text","fontSize":17},"encoding":{"x":{"datum":59.5},"y":{"datum":-0.0529},"text":{"field":"o1"}}},
{"mark":{"type":"text","fontSize":19,"fontWeight":"bold","color":"#a020f0"},"encoding":{"x":{"datum":66.8},"y":{"datum":0.047},"text":{"field":"b2"}}},
{"mark":{"type":"text","fontSize":17},"encoding":{"x":{"datum":59.5},"y":{"datum":0.047},"text":{"field":"o2"}}}]}]},
{"width":293,"height":344,"data":{"name":"CD"},"layer":[
{"transform":[{"filter":"datum.t=='h'"}],"mark":"rect","encoding":{"x":{"field":"n","type":"quantitative","scale":{"domain":[-3.4,73.1],"reverse":true,"nice":false,"zero":false},"axis":{"values":[0,10,20,30,40,50,60,70],"offset":4,"title":null}},"x2":{"datum":0},"y":{"field":"a","type":"quantitative","scale":{"domain":[-0.0705,0.0638],"nice":false,"zero":false},"axis":{"orient":"right","values":[-0.06,-0.04,-0.02,0,0.02,0.04,0.06],"offset":2,"title":null}},"y2":{"field":"b"}}},
{"transform":[{"filter":"datum.t=='i'"}],"layer":[
{"mark":"rule","encoding":{"x":{"datum":0},"y":{"datum":-0.068},"y2":{"datum":0.0615}}},
{"mark":"rule","encoding":{"x":{"datum":0},"x2":{"datum":70},"y":{"datum":-0.0721}}},
{"mark":"rule","encoding":{"x":{"datum":-3.92},"y":{"datum":-0.06},"y2":{"datum":0.06}}},
{"mark":{"type":"text","fontSize":19,"fontWeight":"bold"},"encoding":{"x":{"datum":75.84},"y":{"datum":-0.0034},"text":{"field":"ti"}}},
{"mark":{"type":"text","fontSize":19},"encoding":{"x":{"datum":66.8},"y":{"datum":-0.0034},"text":{"field":"m"}}},
{"mark":{"type":"text","fontSize":19,"fontWeight":"bold","color":"#a020f0"},"encoding":{"x":{"datum":66.8},"y":{"datum":-0.0529},"text":{"field":"b1"}}},
{"mark":{"type":"text","fontSize":17,"fontStyle":"italic"},"encoding":{"x":{"datum":59.5},"y":{"datum":-0.0529},"text":{"field":"o1"}}},
{"mark":{"type":"text","fontSize":19,"fontWeight":"bold","color":"#a020f0"},"encoding":{"x":{"datum":66.8},"y":{"datum":0.047},"text":{"field":"b2"}}},
{"mark":{"type":"text","fontSize":17,"fontStyle":"italic"},"encoding":{"x":{"datum":59.5},"y":{"datum":0.047},"text":{"field":"o2"}}}]},
{"transform":[{"filter":"datum.t=='c'"}],"mark":"line","encoding":{"x":{"field":"n","type":"quantitative"},"y":{"field":"v","type":"quantitative"},"color":{"field":"c","type":"nominal","scale":{"domain":["r","b","g"],"range":["#ff0000","#0000ff","#00ff00"]},"legend":null},"order":{"field":"v","type":"quantitative"}}},
{"transform":[{"filter":"datum.t=='o'"}],"mark":{"type":"rule","color":"#ffa500","strokeWidth":1.5},"encoding":{"x":{"datum":0.35},"y":{"field":"a","type":"quantitative"},"y2":{"field":"b"}}},
{"transform":[{"filter":"datum.t=='m'"}],"mark":"point","encoding":{"x":{"datum":0},"y":{"field":"v","type":"quantitative"}}}]},
{"width":293,"height":344,"view":{"stroke":"#ff0000","strokeWidth":2},"data":{"name":"HT"},"layer":[
{"transform":[{"filter":"datum.t=='h'"}],"mark":"rect","encoding":{"x":{"field":"n","type":"quantitative","scale":{"domain":[-3.4,73.1],"reverse":true,"nice":false,"zero":false},"axis":{"values":[0,10,20,30,40,50,60,70],"offset":4,"title":null}},"x2":{"datum":0},"y":{"field":"a","type":"quantitative","scale":{"domain":[-0.0705,0.0638],"nice":false,"zero":false},"axis":{"orient":"right","values":[-0.06,-0.04,-0.02,0,0.02,0.04,0.06],"offset":2,"title":null}},"y2":{"field":"b"}}},
{"transform":[{"filter":"datum.t=='i'"}],"layer":[
{"mark":"rule","encoding":{"x":{"datum":0},"y":{"datum":-0.068},"y2":{"datum":0.0615}}},
{"mark":"rule","encoding":{"x":{"datum":0},"x2":{"datum":70},"y":{"datum":-0.0721}}},
{"mark":"rule","encoding":{"x":{"datum":-3.92},"y":{"datum":-0.06},"y2":{"datum":0.06}}},
{"mark":{"type":"text","fontSize":19,"fontWeight":"bold"},"encoding":{"x":{"datum":75.84},"y":{"datum":-0.0034},"text":{"field":"ti"}}},
{"mark":{"type":"text","fontSize":19},"encoding":{"x":{"datum":66.8},"y":{"datum":-0.0034},"text":{"field":"m"}}},
{"mark":{"type":"text","fontSize":19,"fontWeight":"bold","color":"#a020f0"},"encoding":{"x":{"datum":66.8},"y":{"datum":-0.0529},"text":{"field":"b1"}}},
{"mark":{"type":"text","fontSize":17,"fontStyle":"italic"},"encoding":{"x":{"datum":59.5},"y":{"datum":-0.0529},"text":{"field":"o1"}}},
{"mark":{"type":"text","fontSize":19,"fontWeight":"bold","color":"#a020f0"},"encoding":{"x":{"datum":66.8},"y":{"datum":0.047},"text":{"field":"b2"}}},
{"mark":{"type":"text","fontSize":17,"fontStyle":"italic"},"encoding":{"x":{"datum":59.5},"y":{"datum":0.047},"text":{"field":"o2"}}}]},
{"transform":[{"filter":"datum.t=='c'"}],"mark":"line","encoding":{"x":{"field":"n","type":"quantitative"},"y":{"field":"v","type":"quantitative"},"color":{"field":"c","type":"nominal","scale":{"domain":["r","b","g"],"range":["#ff0000","#0000ff","#00ff00"]},"legend":null},"order":{"field":"v","type":"quantitative"}}},
{"transform":[{"filter":"datum.t=='o'"}],"mark":{"type":"rule","color":"#ffa500","strokeWidth":1.5},"encoding":{"x":{"datum":0.35},"y":{"field":"a","type":"quantitative"},"y2":{"field":"b"}}},
{"transform":[{"filter":"datum.t=='m'"}],"mark":"point","encoding":{"x":{"datum":0},"y":{"field":"v","type":"quantitative"}}}]},
{"width":293,"height":344,"view":{"stroke":"#bebebe","strokeWidth":1.5},"data":{"name":"box"},"layer":[
{"mark":{"type":"text","align":"left","fontSize":21,"fontWeight":"bold","color":"#ff00ff"},"encoding":{"x":{"datum":0.0785,"type":"quantitative","scale":{"domain":[0,1],"nice":false,"zero":false},"axis":null},"y":{"datum":0.052,"type":"quantitative","scale":{"domain":[0,1],"nice":false,"zero":false},"axis":null},"text":{"field":"l1"}}},
{"mark":{"type":"text","align":"left","fontSize":16,"fontWeight":"bold"},"encoding":{"x":{"datum":0.1877,"axis":null},"y":{"datum":0.052,"axis":null},"text":{"field":"l2"}}},
{"mark":{"type":"text","align":"left","fontSize":18,"fontWeight":"bold"},"encoding":{"x":{"datum":0.331,"axis":null},"y":{"datum":0.052,"axis":null},"text":{"field":"l3"}}},
{"mark":{"type":"text","align":"left","fontSize":18,"fontWeight":"bold"},"encoding":{"x":{"datum":0.331,"axis":null},"y":{"datum":0.5756,"axis":null},"text":{"field":"l4"}}},
{"mark":{"type":"text","align":"left","fontSize":18,"fontWeight":"bold"},"encoding":{"x":{"datum":0.4846,"axis":null},"y":{"datum":0.052,"axis":null},"text":{"field":"l5"}}},
{"mark":{"type":"text","align":"left","fontSize":18,"fontWeight":"bold"},"encoding":{"x":{"datum":0.4846,"axis":null},"y":{"datum":0.5756,"axis":null},"text":{"field":"l6"}}},
{"mark":{"type":"text","align":"left","fontSize":18,"fontWeight":"bold"},"encoding":{"x":{"datum":0.635,"axis":null},"y":{"datum":0.052,"axis":null},"text":{"field":"l7"}}},
{"mark":{"type":"text","align":"left","fontSize":18,"fontWeight":"bold"},"encoding":{"x":{"datum":0.785,"axis":null},"y":{"datum":0.052,"axis":null},"text":{"field":"l8"}}},
{"mark":{"type":"text","align":"left","fontSize":18,"fontWeight":"bold"},"encoding":{"x":{"datum":0.935,"axis":null},"y":{"datum":0.052,"axis":null},"text":{"field":"l9"}}}]},
{"width":293,"height":344,"view":{"stroke":"#ff0000","strokeWidth":2},"data":{"name":"BC"},"layer":[
{"transform":[{"filter":"datum.t=='h'"}],"mark":"rect","encoding":{"x":{"field":"n","type":"quantitative","scale":{"domain":[-3.4,73.1],"reverse":true,"nice":false,"zero":false},"axis":{"values":[0,10,20,30,40,50,60,70],"offset":4,"title":null}},"x2":{"datum":0},"y":{"field":"a","type":"quantitative","scale":{"domain":[-0.0705,0.0638],"nice":false,"zero":false},"axis":{"orient":"right","values":[-0.06,-0.04,-0.02,0,0.02,0.04,0.06],"offset":2,"title":null}},"y2":{"field":"b"}}},
{"transform":[{"filter":"datum.t=='i'"}],"layer":[
{"mark":"rule","encoding":{"x":{"datum":0},"y":{"datum":-0.068},"y2":{"datum":0.0615}}},
{"mark":"rule","encoding":{"x":{"datum":0},"x2":{"datum":70},"y":{"datum":-0.0721}}},
{"mark":"rule","encoding":{"x":{"datum":-3.92},"y":{"datum":-0.06},"y2":{"datum":0.06}}},
{"mark":{"type":"text","fontSize":19,"fontWeight":"bold"},"encoding":{"x":{"datum":75.84},"y":{"datum":-0.0034},"text":{"field":"ti"}}},
{"mark":{"type":"text","fontSize":19},"encoding":{"x":{"datum":66.8},"y":{"datum":-0.0034},"text":{"field":"m"}}},
{"mark":{"type":"text","fontSize":19,"fontWeight":"bold","color":"#a020f0"},"encoding":{"x":{"datum":66.8},"y":{"datum":-0.0529},"text":{"field":"b1"}}},
{"mark":{"type":"text","fontSize":17,"fontStyle":"italic"},"encoding":{"x":{"datum":59.5},"y":{"datum":-0.0529},"text":{"field":"o1"}}},
{"mark":{"type":"text","fontSize":19,"fontWeight":"bold","color":"#a020f0"},"encoding":{"x":{"datum":66.8},"y":{"datum":0.047},"text":{"field":"b2"}}},
{"mark":{"type":"text","fontSize":17,"fontStyle":"italic"},"encoding":{"x":{"datum":59.5},"y":{"datum":0.047},"text":{"field":"o2"}}}]},
{"transform":[{"filter":"datum.t=='c'"}],"mark":"line","encoding":{"x":{"field":"n","type":"quantitative"},"y":{"field":"v","type":"quantitative"},"color":{"field":"c","type":"nominal","scale":{"domain":["r","b","g"],"range":["#ff0000","#0000ff","#00ff00"]},"legend":null},"order":{"field":"v","type":"quantitative"}}},
{"transform":[{"filter":"datum.t=='o'"}],"mark":{"type":"rule","color":"#ffa500","strokeWidth":1.5},"encoding":{"x":{"datum":0.35},"y":{"field":"a","type":"quantitative"},"y2":{"field":"b"}}},
{"transform":[{"filter":"datum.t=='m'"}],"mark":"point","encoding":{"x":{"datum":0},"y":{"field":"v","type":"quantitative"}}}]},
{"width":293,"height":344,"view":{"stroke":"#ff0000","strokeWidth":2},"data":{"name":"RA"},"layer":[
{"transform":[{"filter":"datum.t=='h'"}],"mark":"rect","encoding":{"x":{"field":"n","type":"quantitative","scale":{"domain":[-3.4,73.1],"reverse":true,"nice":false,"zero":false},"axis":{"values":[0,10,20,30,40,50,60,70],"offset":4,"title":null}},"x2":{"datum":0},"y":{"field":"a","type":"quantitative","scale":{"domain":[-0.0705,0.0638],"nice":false,"zero":false},"axis":{"orient":"right","values":[-0.06,-0.04,-0.02,0,0.02,0.04,0.06],"offset":2,"title":null}},"y2":{"field":"b"}}},
{"transform":[{"filter":"datum.t=='i'"}],"layer":[
{"mark":"rule","encoding":{"x":{"datum":0},"y":{"datum":-0.068},"y2":{"datum":0.0615}}},
{"mark":"rule","encoding":{"x":{"datum":0},"x2":{"datum":70},"y":{"datum":-0.0721}}},
{"mark":"rule","encoding":{"x":{"datum":-3.92},"y":{"datum":-0.06},"y2":{"datum":0.06}}},
{"mark":{"type":"text","fontSize":19,"fontWeight":"bold"},"encoding":{"x":{"datum":75.84},"y":{"datum":-0.0034},"text":{"field":"ti"}}},
{"mark":{"type":"text","fontSize":19},"encoding":{"x":{"datum":66.8},"y":{"datum":-0.0034},"text":{"field":"m"}}},
{"mark":{"type":"text","fontSize":19,"fontWeight":"bold","color":"#a020f0"},"encoding":{"x":{"datum":66.8},"y":{"datum":-0.0529},"text":{"field":"b1"}}},
{"mark":{"type":"text","fontSize":17,"fontStyle":"italic"},"encoding":{"x":{"datum":59.5},"y":{"datum":-0.0529},"text":{"field":"o1"}}},
{"mark":{"type":"text","fontSize":19,"fontWeight":"bold","color":"#a020f0"},"encoding":{"x":{"datum":66.8},"y":{"datum":0.047},"text":{"field":"b2"}}},
{"mark":{"type":"text","fontSize":17,"fontStyle":"italic"},"encoding":{"x":{"datum":59.5},"y":{"datum":0.047},"text":{"field":"o2"}}}]},
{"transform":[{"filter":"datum.t=='c'"}],"mark":"line","encoding":{"x":{"field":"n","type":"quantitative"},"y":{"field":"v","type":"quantitative"},"color":{"field":"c","type":"nominal","scale":{"domain":["r","b","g"],"range":["#ff0000","#0000ff","#00ff00"]},"legend":null},"order":{"field":"v","type":"quantitative"}}},
{"transform":[{"filter":"datum.t=='o'"}],"mark":{"type":"rule","color":"#ffa500","strokeWidth":1.5},"encoding":{"x":{"datum":0.35},"y":{"field":"a","type":"quantitative"},"y2":{"field":"b"}}},
{"transform":[{"filter":"datum.t=='m'"}],"mark":"point","encoding":{"x":{"datum":0},"y":{"field":"v","type":"quantitative"}}}]},
{"width":293,"height":344,"view":{"stroke":"#ff0000","strokeWidth":2},"data":{"name":"T1D"},"layer":[
{"transform":[{"filter":"datum.t=='h'"}],"mark":"rect","encoding":{"x":{"field":"n","type":"quantitative","scale":{"domain":[-3.4,73.1],"reverse":true,"nice":false,"zero":false},"axis":{"values":[0,10,20,30,40,50,60,70],"offset":4,"title":null}},"x2":{"datum":0},"y":{"field":"a","type":"quantitative","scale":{"domain":[-0.0705,0.0638],"nice":false,"zero":false},"axis":{"orient":"right","values":[-0.06,-0.04,-0.02,0,0.02,0.04,0.06],"offset":2,"title":null}},"y2":{"field":"b"}}},
{"transform":[{"filter":"datum.t=='i'"}],"layer":[
{"mark":"rule","encoding":{"x":{"datum":0},"y":{"datum":-0.068},"y2":{"datum":0.0615}}},
{"mark":"rule","encoding":{"x":{"datum":0},"x2":{"datum":70},"y":{"datum":-0.0721}}},
{"mark":"rule","encoding":{"x":{"datum":-3.92},"y":{"datum":-0.06},"y2":{"datum":0.06}}},
{"mark":{"type":"text","fontSize":19,"fontWeight":"bold"},"encoding":{"x":{"datum":75.84},"y":{"datum":-0.0034},"text":{"field":"ti"}}},
{"mark":{"type":"text","fontSize":19},"encoding":{"x":{"datum":66.8},"y":{"datum":-0.0034},"text":{"field":"m"}}},
{"mark":{"type":"text","fontSize":19,"fontWeight":"bold","color":"#a020f0"},"encoding":{"x":{"datum":66.8},"y":{"datum":-0.0529},"text":{"field":"b1"}}},
{"mark":{"type":"text","fontSize":17,"fontStyle":"italic"},"encoding":{"x":{"datum":59.5},"y":{"datum":-0.0529},"text":{"field":"o1"}}},
{"mark":{"type":"text","fontSize":19,"fontWeight":"bold","color":"#a020f0"},"encoding":{"x":{"datum":66.8},"y":{"datum":0.047},"text":{"field":"b2"}}},
{"mark":{"type":"text","fontSize":17,"fontStyle":"italic"},"encoding":{"x":{"datum":59.5},"y":{"datum":0.047},"text":{"field":"o2"}}}]},
{"transform":[{"filter":"datum.t=='c'"}],"mark":"line","encoding":{"x":{"field":"n","type":"quantitative"},"y":{"field":"v","type":"quantitative"},"color":{"field":"c","type":"nominal","scale":{"domain":["r","b","g"],"range":["#ff0000","#0000ff","#00ff00"]},"legend":null},"order":{"field":"v","type":"quantitative"}}},
{"transform":[{"filter":"datum.t=='o'"}],"mark":{"type":"rule","color":"#ffa500","strokeWidth":1.5},"encoding":{"x":{"datum":0.35},"y":{"field":"a","type":"quantitative"},"y2":{"field":"b"}}},
{"transform":[{"filter":"datum.t=='m'"}],"mark":"point","encoding":{"x":{"datum":0},"y":{"field":"v","type":"quantitative"}}}]},
{"width":293,"height":344,"data":{"name":"UKBS"},"layer":[
{"transform":[{"filter":"datum.t=='h'"}],"mark":"rect","encoding":{"x":{"field":"n","type":"quantitative","scale":{"domain":[-3.4,73.1],"reverse":true,"nice":false,"zero":false},"axis":{"values":[0,10,20,30,40,50,60,70],"offset":4,"title":null}},"x2":{"datum":0},"y":{"field":"a","type":"quantitative","scale":{"domain":[-0.0705,0.0638],"nice":false,"zero":false},"axis":{"orient":"right","values":[-0.06,-0.04,-0.02,0,0.02,0.04,0.06],"offset":2,"title":null}},"y2":{"field":"b"}}},
{"transform":[{"filter":"datum.t=='i'"}],"layer":[
{"mark":"rule","encoding":{"x":{"datum":0},"y":{"datum":-0.068},"y2":{"datum":0.0615}}},
{"mark":"rule","encoding":{"x":{"datum":0},"x2":{"datum":70},"y":{"datum":-0.0721}}},
{"mark":"rule","encoding":{"x":{"datum":-3.92},"y":{"datum":-0.06},"y2":{"datum":0.06}}},
{"mark":{"type":"text","fontSize":19,"fontWeight":"bold"},"encoding":{"x":{"datum":75.84},"y":{"datum":-0.0034},"text":{"field":"ti"}}},
{"mark":{"type":"text","fontSize":19},"encoding":{"x":{"datum":66.8},"y":{"datum":-0.0034},"text":{"field":"m"}}}]},
{"transform":[{"filter":"datum.t=='c'"}],"mark":"line","encoding":{"x":{"field":"n","type":"quantitative"},"y":{"field":"v","type":"quantitative"},"color":{"field":"c","type":"nominal","scale":{"domain":["r","b","g"],"range":["#ff0000","#0000ff","#00ff00"]},"legend":null},"order":{"field":"v","type":"quantitative"}}},
{"transform":[{"filter":"datum.t=='o'"}],"mark":{"type":"rule","color":"#ffa500","strokeWidth":1.5},"encoding":{"x":{"datum":0.35},"y":{"field":"a","type":"quantitative"},"y2":{"field":"b"}}},
{"transform":[{"filter":"datum.t=='m'"}],"mark":"point","encoding":{"x":{"datum":0},"y":{"field":"v","type":"quantitative"}}}]},
{"width":293,"height":344,"view":{"stroke":"#ff0000","strokeWidth":2},"data":{"name":"T2D"},"layer":[
{"transform":[{"filter":"datum.t=='h'"}],"mark":"rect","encoding":{"x":{"field":"n","type":"quantitative","scale":{"domain":[-3.4,73.1],"reverse":true,"nice":false,"zero":false},"axis":{"values":[0,10,20,30,40,50,60,70],"offset":4,"title":null}},"x2":{"datum":0},"y":{"field":"a","type":"quantitative","scale":{"domain":[-0.0705,0.0638],"nice":false,"zero":false},"axis":{"orient":"right","values":[-0.06,-0.04,-0.02,0,0.02,0.04,0.06],"offset":2,"title":null}},"y2":{"field":"b"}}},
{"transform":[{"filter":"datum.t=='i'"}],"layer":[
{"mark":"rule","encoding":{"x":{"datum":0},"y":{"datum":-0.068},"y2":{"datum":0.0615}}},
{"mark":"rule","encoding":{"x":{"datum":0},"x2":{"datum":70},"y":{"datum":-0.0721}}},
{"mark":"rule","encoding":{"x":{"datum":-3.92},"y":{"datum":-0.06},"y2":{"datum":0.06}}},
{"mark":{"type":"text","fontSize":19,"fontWeight":"bold"},"encoding":{"x":{"datum":75.84},"y":{"datum":-0.0034},"text":{"field":"ti"}}},
{"mark":{"type":"text","fontSize":19},"encoding":{"x":{"datum":66.8},"y":{"datum":-0.0034},"text":{"field":"m"}}},
{"mark":{"type":"text","fontSize":19,"fontWeight":"bold","color":"#a020f0"},"encoding":{"x":{"datum":66.8},"y":{"datum":-0.0529},"text":{"field":"b1"}}},
{"mark":{"type":"text","fontSize":17,"fontStyle":"italic"},"encoding":{"x":{"datum":59.5},"y":{"datum":-0.0529},"text":{"field":"o1"}}},
{"mark":{"type":"text","fontSize":19,"fontWeight":"bold","color":"#a020f0"},"encoding":{"x":{"datum":66.8},"y":{"datum":0.047},"text":{"field":"b2"}}},
{"mark":{"type":"text","fontSize":17,"fontStyle":"italic"},"encoding":{"x":{"datum":59.5},"y":{"datum":0.047},"text":{"field":"o2"}}}]},
{"transform":[{"filter":"datum.t=='c'"}],"mark":"line","encoding":{"x":{"field":"n","type":"quantitative"},"y":{"field":"v","type":"quantitative"},"color":{"field":"c","type":"nominal","scale":{"domain":["r","b","g"],"range":["#ff0000","#0000ff","#00ff00"]},"legend":null},"order":{"field":"v","type":"quantitative"}}},
{"transform":[{"filter":"datum.t=='o'"}],"mark":{"type":"rule","color":"#ffa500","strokeWidth":1.5},"encoding":{"x":{"datum":0.35},"y":{"field":"a","type":"quantitative"},"y2":{"field":"b"}}},
{"transform":[{"filter":"datum.t=='m'"}],"mark":"point","encoding":{"x":{"datum":0},"y":{"field":"v","type":"quantitative"}}}]},
{"width":293,"height":344,"data":{"name":"C58"},"layer":[
{"transform":[{"filter":"datum.t=='h'"}],"mark":"rect","encoding":{"x":{"field":"n","type":"quantitative","scale":{"domain":[-3.4,73.1],"reverse":true,"nice":false,"zero":false},"axis":{"values":[0,10,20,30,40,50,60,70],"offset":4,"title":null}},"x2":{"datum":0},"y":{"field":"a","type":"quantitative","scale":{"domain":[-0.0705,0.0638],"nice":false,"zero":false},"axis":{"orient":"right","values":[-0.06,-0.04,-0.02,0,0.02,0.04,0.06],"offset":2,"title":null}},"y2":{"field":"b"}}},
{"transform":[{"filter":"datum.t=='i'"}],"layer":[
{"mark":"rule","encoding":{"x":{"datum":0},"y":{"datum":-0.068},"y2":{"datum":0.0615}}},
{"mark":"rule","encoding":{"x":{"datum":0},"x2":{"datum":70},"y":{"datum":-0.0721}}},
{"mark":"rule","encoding":{"x":{"datum":-3.92},"y":{"datum":-0.06},"y2":{"datum":0.06}}},
{"mark":{"type":"text","fontSize":19,"fontWeight":"bold"},"encoding":{"x":{"datum":75.84},"y":{"datum":-0.0034},"text":{"field":"ti"}}},
{"mark":{"type":"text","fontSize":19},"encoding":{"x":{"datum":66.8},"y":{"datum":-0.0034},"text":{"field":"m"}}}]},
{"transform":[{"filter":"datum.t=='c'"}],"mark":"line","encoding":{"x":{"field":"n","type":"quantitative"},"y":{"field":"v","type":"quantitative"},"color":{"field":"c","type":"nominal","scale":{"domain":["r","b","g"],"range":["#ff0000","#0000ff","#00ff00"]},"legend":null},"order":{"field":"v","type":"quantitative"}}},
{"transform":[{"filter":"datum.t=='o'"}],"mark":{"type":"rule","color":"#ffa500","strokeWidth":1.5},"encoding":{"x":{"datum":0.35},"y":{"field":"a","type":"quantitative"},"y2":{"field":"b"}}},
{"transform":[{"filter":"datum.t=='m'"}],"mark":"point","encoding":{"x":{"datum":0},"y":{"field":"v","type":"quantitative"}}}]}
]
}
